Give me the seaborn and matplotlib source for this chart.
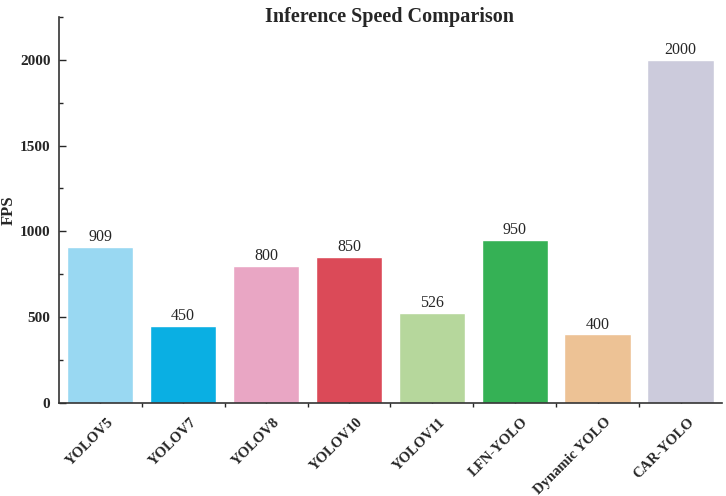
import matplotlib
matplotlib.use("Agg")
import matplotlib.pyplot as plt
import matplotlib.transforms as mtransforms
import seaborn as sns
import pandas as pd
from matplotlib.ticker import MultipleLocator, FixedLocator

# Data
models = ['YOLOV5', 'YOLOV7', 'YOLOV8', 'YOLOV10', 'YOLOV11',
          'LFN-YOLO', 'Dynamic YOLO', 'CAR-YOLO']
fps = [909, 450, 800, 850, 526, 950, 400, 2000]
bar_colors = ['#99d8f2', '#0aafe3', '#e9a6c4', '#db4a58', '#b6d79c',
              '#35b155', '#edc295', '#cccbdc']

df = pd.DataFrame({'Model': models, 'FPS': fps})

sns.set_style('white')
plt.rcParams['font.family'] = ['Liberation Serif', 'DejaVu Serif']

fig = plt.figure(figsize=(7.26, 4.96), dpi=100)
ax = fig.add_axes([0.081, 0.1875, 0.9135, 0.7785])

sns.barplot(data=df, x='Model', y='FPS', hue='Model', palette=bar_colors,
            legend=False, width=0.8, saturation=1, ax=ax)

for i, v in enumerate(fps):
    ax.text(i, v + 10, str(v), ha='center', va='bottom', fontsize=11.5)

ax.set_ylim(0, 2250)
ax.set_xlim(-0.5, len(models) - 0.5)
ax.yaxis.set_major_locator(MultipleLocator(500))
ax.yaxis.set_minor_locator(MultipleLocator(250))
ax.xaxis.set_minor_locator(FixedLocator([i + 0.5 for i in range(len(models) - 1)]))

ax.tick_params(axis='y', which='major', direction='in', length=5, width=1,
               left=True, labelsize=11, pad=6)
ax.tick_params(axis='y', which='minor', direction='in', length=3, width=1, left=True)
ax.tick_params(axis='x', which='major', direction='in', length=5, width=1,
               bottom=True, labelsize=10.5, pad=9)
ax.tick_params(axis='x', which='minor', direction='out', length=3, width=1, bottom=True)

for lab in ax.get_yticklabels():
    lab.set_fontweight('bold')
shift = mtransforms.ScaledTranslation(7 / 100, 0, fig.dpi_scale_trans)
for lab in ax.get_xticklabels():
    lab.set_fontweight('bold')
    lab.set_rotation(45)
    lab.set_ha('right')
    lab.set_rotation_mode('anchor')
    lab.set_transform(lab.get_transform() + shift)

ax.set_xlabel('')
ax.set_ylabel('FPS', fontsize=12, fontweight='bold')
ax.yaxis.set_label_coords(-0.064, 0.5)
fig.text(0.537, 0.966, 'Inference Speed Comparison', ha='center', va='center',
         fontsize=14.5, fontweight='bold')

ax.spines['top'].set_visible(False)
ax.spines['right'].set_visible(False)
for s in ['left', 'bottom']:
    ax.spines[s].set_color('#333333')
    ax.spines[s].set_linewidth(1.2)

fig.savefig('out.png', dpi=100)
